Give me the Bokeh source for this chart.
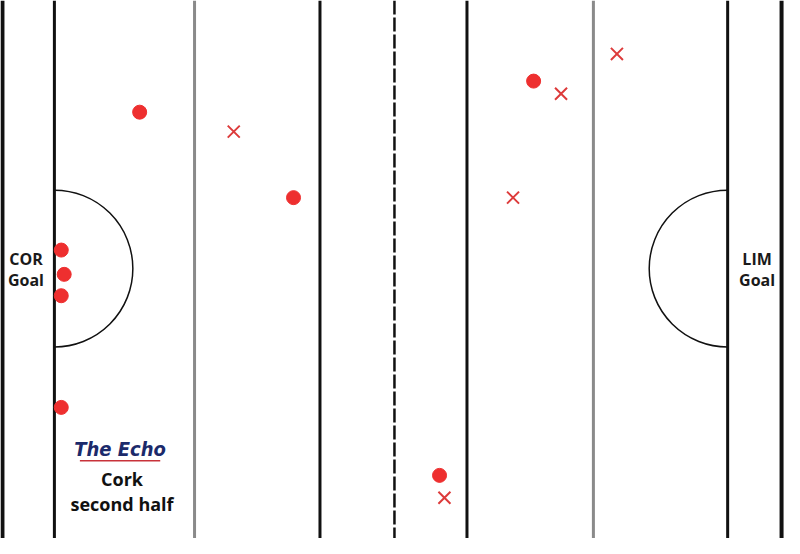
import numpy as np
from bokeh.plotting import figure
from bokeh.models import Range1d
from bokeh.core.properties import value
from bokeh.embed import file_html
from bokeh.resources import INLINE

# Pitch geometry (in reference-pixel units)
black_lines_x = [2, 55, 326, 476, 742, 797]
black_lines_w = [4, 3, 3, 3, 3, 4]
grey_lines_x = [198, 605]
halfway_x = [402]
goal_x = [55, 742]
goal_y = 276
arc_radius = 80

# Shots: goals/points (circles) and wides (crosses)
score_x = [142, 299, 62, 65, 62, 62, 544, 448]
score_y = [115, 203, 257, 282, 304, 419, 83, 489]
miss_x = [238, 629, 572, 523, 453]
miss_y = [135, 55, 96, 203, 512]

W, H = 784, 538
p = figure(width=W, height=H, output_backend="svg", toolbar_location=None,
           x_range=Range1d(0, 800), y_range=Range1d(554, 0),
           min_border=0, background_fill_color="white", border_fill_color="white")
p.axis.visible = False
p.grid.visible = False
p.outline_line_color = None

# Lines
p.segment(x0=black_lines_x, y0=[0]*6, x1=black_lines_x, y1=[554]*6,
          line_color="#111111", line_width=black_lines_w)
p.segment(x0=grey_lines_x, y0=[0, 0], x1=grey_lines_x, y1=[554, 554],
          line_color="#8a8a8a", line_width=3)
p.segment(x0=halfway_x, y0=[0], x1=halfway_x, y1=[554],
          line_color="#111111", line_width=2.5, line_dash="14 3")

# Goal semicircles
p.arc(x=[goal_x[0]], y=[goal_y], radius=arc_radius, start_angle=-np.pi/2, end_angle=np.pi/2,
      line_color="#111111", line_width=1.5)
p.arc(x=[goal_x[1]], y=[goal_y], radius=arc_radius, start_angle=np.pi/2, end_angle=3*np.pi/2,
      line_color="#111111", line_width=1.5)

# Shots
p.scatter(x=score_x, y=score_y, size=14, marker="circle", fill_color="#ee2f2f", line_color="#ee2f2f")
p.scatter(x=miss_x, y=miss_y, size=17, marker="x", line_color="#dd3b3b", line_width=2)

# Labels
font = value("Open Sans")
p.text(x=[26, 26], y=[266, 288], text=["COR", "Goal"], text_align="center", text_baseline="middle",
       text_font=font, text_font_style="bold", text_font_size="16px", text_color="#1a1a1a")
p.text(x=[772, 772], y=[266, 288], text=["LIM", "Goal"], text_align="center", text_baseline="middle",
       text_font=font, text_font_style="bold", text_font_size="16px", text_color="#1a1a1a")

# Logo
p.text(x=[122], y=[462], text=["The Echo"], text_align="center", text_baseline="middle",
       text_font=value("DejaVu Sans Condensed, Liberation Sans"), text_font_style="bold italic",
       text_font_size="20px", text_color="#1b2a6b")
p.segment(x0=[81], y0=[474], x1=[163], y1=[474], line_color="#c8323a", line_width=1.5)

p.text(x=[124, 124], y=[493, 518], text=["Cork", "second half"], text_align="center",
       text_baseline="middle", text_font=font, text_font_style="bold",
       text_font_size="18px", text_color="#111111")

open("out.html", "w").write(file_html(p, INLINE))
